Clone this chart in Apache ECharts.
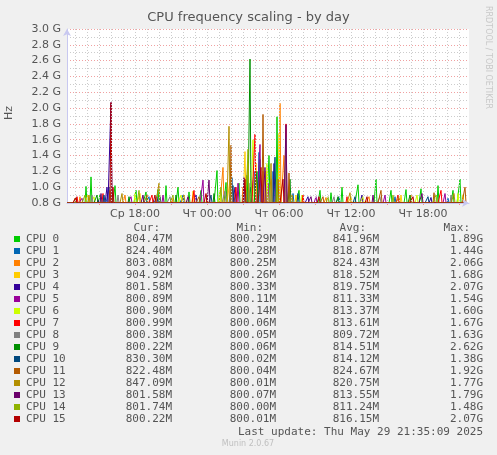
<!DOCTYPE html>
<html>
<head>
<meta charset="utf-8">
<script src="https://cdn.jsdelivr.net/npm/echarts@6/dist/echarts.min.js"></script>
<style>
  html, body { margin: 0; padding: 0; background: #f0f0f0; }
  #chart { width: 497px; height: 455px; }
</style>
</head>
<body>
<div id="chart"></div>
<script>
// time in hours since Wed 00:00, values in GHz
const startHour = 12.3333;
const endHour = 45.5833;
const baseline = 0.80;

const names = ['CPU 0','CPU 1','CPU 2','CPU 3','CPU 4','CPU 5','CPU 6','CPU 7',
               'CPU 8','CPU 9','CPU 10','CPU 11','CPU 12','CPU 13','CPU 14','CPU 15'];
const colors = ['#00cc00','#0066b3','#ff8000','#ffcc00','#330099','#990099','#ccff00','#ff0000',
                '#808080','#008f00','#00487d','#b35a00','#b38f00','#6b006b','#8fb300','#b30000'];

// spikes: [hour, GHz]
const spikes = [
  [[13.9,1.01],[14.33,1.13],[15.1,0.9],[16.33,1.02],[18.1,0.96],[18.9,0.94],[19.9,0.97],[20.6,1.02],[21.6,1.0],[22.5,0.94],[23.5,0.96],[24.8,1.21],[25.6,1.06],[26.7,1.05],[27.3,1.15],[28.4,1.35],[29.2,1.4],[29.86,1.89],[30.8,1.0],[31.7,0.96],[33.4,0.96],[34.3,0.93],[35.22,1.0],[36.6,1.03],[38.08,1.1],[39.3,0.96],[40.6,0.97],[41.8,0.98],[43.28,1.02],[44.5,0.96],[45.08,1.1]],
  [[15.8,1.0],[19.2,0.88],[22.0,0.9],[26.1,1.12],[27.7,1.0],[28.3,1.44],[29.5,1.2],[31.2,0.92],[35.0,0.88],[39.7,0.88],[44.1,0.86]],
  [[13.4,0.88],[17.2,0.9],[21.1,0.86],[24.0,0.9],[25.3,1.25],[27.0,1.0],[28.9,1.2],[30.11,2.06],[30.4,1.4],[33.9,0.87],[37.5,0.88],[41.0,0.9]],
  [[14.1,0.9],[18.4,0.92],[22.8,0.95],[25.9,1.1],[27.2,1.45],[28.1,1.3],[30.0,1.68],[31.4,0.9],[36.0,0.88],[40.2,0.9],[45.3,0.905]],
  [[14.9,0.84],[15.7,1.0],[16.0,2.07],[19.8,0.88],[23.1,0.9],[26.3,1.0],[27.9,1.2],[29.6,1.3],[32.4,0.88],[36.9,0.9],[42.7,0.87]],
  [[13.6,0.86],[17.7,0.88],[20.3,0.9],[23.7,1.09],[26.6,1.05],[28.4,1.54],[29.1,1.05],[33.1,0.88],[38.8,0.9],[43.8,0.92]],
  [[14.6,0.88],[18.0,0.92],[21.8,0.9],[25.1,0.96],[27.8,1.6],[29.0,1.3],[31.9,0.9],[37.0,0.88],[41.5,0.9],[44.9,0.92]],
  [[13.2,0.88],[15.3,0.92],[19.4,0.9],[22.9,0.96],[26.4,1.0],[28.0,1.67],[28.7,1.2],[30.55,1.8],[32.0,0.9],[35.7,0.88],[39.9,0.9],[43.5,0.96]],
  [[14.4,0.9],[16.6,0.9],[20.9,0.88],[25.5,0.95],[27.5,1.05],[29.4,1.1],[30.6,1.63],[34.6,0.88],[38.4,0.88],[44.3,0.9]],
  [[14.8,0.9],[17.5,0.88],[21.4,0.9],[24.6,0.92],[27.61,2.62],[28.2,1.2],[30.9,1.1],[34.9,0.88],[40.9,0.9]],
  [[15.4,0.9],[20.1,0.88],[24.3,0.9],[26.2,1.02],[29.7,1.38],[31.6,0.92],[36.3,0.88],[42.4,0.88]],
  [[13.0,0.86],[15.9,0.96],[19.0,0.9],[23.3,0.88],[26.0,1.53],[28.69,1.92],[29.9,1.1],[30.8,1.18],[33.7,0.88],[38.5,0.96],[42.9,0.93],[45.5,1.0]],
  [[14.2,0.9],[16.9,0.92],[20.0,1.05],[22.1,0.9],[25.86,1.77],[27.4,1.3],[29.3,1.3],[31.1,0.9],[35.9,0.93],[40.0,0.88],[44.6,0.92]],
  [[15.2,0.92],[18.7,0.9],[22.4,0.88],[24.2,1.09],[27.1,1.12],[28.8,1.25],[30.56,1.79],[32.7,0.88],[37.8,0.9],[41.9,0.92]],
  [[13.8,0.9],[18.3,0.96],[21.2,0.9],[25.2,1.0],[27.4,1.48],[29.8,1.1],[34.1,0.88],[39.5,0.9],[43.1,0.9]],
  [[13.1,0.87],[16.0,2.07],[16.2,1.0],[19.7,0.9],[23.9,0.92],[27.2,1.1],[28.5,1.25],[30.3,1.1],[33.3,0.88],[37.3,0.88],[41.2,0.88]]
];

const curVals = ['804.47M','824.40M','803.08M','904.92M','801.58M','800.89M','800.90M','800.99M','800.38M','800.22M','830.30M','822.48M','847.09M','801.58M','801.74M','800.22M'];
const minVals = ['800.29M','800.28M','800.25M','800.26M','800.33M','800.11M','800.14M','800.06M','800.05M','800.06M','800.02M','800.04M','800.01M','800.07M','800.00M','800.01M'];
const avgVals = ['841.96M','818.87M','824.43M','818.52M','819.75M','811.33M','813.37M','813.61M','809.72M','814.51M','814.12M','824.67M','820.75M','813.55M','811.24M','816.15M'];
const maxVals = ['1.89G','1.44G','2.06G','1.68G','2.07G','1.54G','1.60G','1.67G','1.63G','2.62G','1.38G','1.92G','1.77G','1.79G','1.48G','2.07G'];

const xLabels = { 18: 'Ср 18:00', 24: 'Чт 00:00', 30: 'Чт 06:00', 36: 'Чт 12:00', 42: 'Чт 18:00' };
const hourLines = [];
for (let h = 13; h <= 45; h++) hourLines.push(h);
const majorLines = [15, 18, 21, 24, 27, 30, 33, 36, 39, 42, 45];

// 5 minute steps, baseline between read spikes
const step = 1 / 12;
function buildSeries(list) {
  const n = Math.round((endHour - startHour) / step) + 1;
  const vals = new Array(n).fill(baseline);
  list.forEach(([h, v]) => {
    const i = Math.round((h - startHour) / step);
    if (i >= 0 && i < n) vals[i] = Math.max(vals[i], v);
  });
  return vals.map((v, i) => [startHour + i * step, v]);
}

const chart = echarts.init(document.getElementById('chart'));
const font = 'DejaVu Sans';
const mono = 'DejaVu Sans Mono';
const textCol = '#555';

const graphic = [
  { type: 'text', left: 'center', top: 11, style: { text: 'CPU frequency scaling - by day', font: '13px ' + font, fill: '#555' } },
  { type: 'text', x: 4, y: 120, rotation: Math.PI / 2, style: { text: 'Hz', font: '11px ' + font, fill: '#555' } },
  { type: 'text', x: 492, y: 6, rotation: -Math.PI / 2, style: { text: 'RRDTOOL / TOBI OETIKER', font: '8px ' + font, fill: '#c8c8c8' } },
  { type: 'text', x: 160, y: 223, style: { text: 'Cur:', font: '11px ' + mono, fill: textCol, align: 'right' } },
  { type: 'text', x: 263, y: 223, style: { text: 'Min:', font: '11px ' + mono, fill: textCol, align: 'right' } },
  { type: 'text', x: 366, y: 223, style: { text: 'Avg:', font: '11px ' + mono, fill: textCol, align: 'right' } },
  { type: 'text', x: 470, y: 223, style: { text: 'Max:', font: '11px ' + mono, fill: textCol, align: 'right' } },
  { type: 'text', x: 483, y: 427, style: { text: 'Last update: Thu May 29 21:35:09 2025', font: '11px ' + mono, fill: textCol, align: 'right' } },
  { type: 'text', x: 248, y: 440, style: { text: 'Munin 2.0.67', font: '8px ' + font, fill: '#c0c0c0', align: 'center' } }
];
names.forEach((name, i) => {
  const y = 235 + i * 12;
  graphic.push({ type: 'rect', shape: { x: 14, y: y + 1, width: 6, height: 6 }, style: { fill: colors[i] } });
  graphic.push({ type: 'text', x: 26, y: y - 1, style: { text: name, font: '11px ' + mono, fill: textCol } });
  graphic.push({ type: 'text', x: 172, y: y - 1, style: { text: curVals[i], font: '11px ' + mono, fill: textCol, align: 'right' } });
  graphic.push({ type: 'text', x: 276, y: y - 1, style: { text: minVals[i], font: '11px ' + mono, fill: textCol, align: 'right' } });
  graphic.push({ type: 'text', x: 379, y: y - 1, style: { text: avgVals[i], font: '11px ' + mono, fill: textCol, align: 'right' } });
  graphic.push({ type: 'text', x: 483, y: y - 1, style: { text: maxVals[i], font: '11px ' + mono, fill: textCol, align: 'right' } });
});

const axisArrow = { show: true, onZero: false, lineStyle: { color: '#c8c8f0' }, symbol: ['none', 'arrow'], symbolSize: [6, 7] };

chart.setOption({
  backgroundColor: '#f0f0f0',
  animation: false,
  grid: { left: 67, right: 28, top: 29, bottom: 252, backgroundColor: '#fff', show: true, borderWidth: 0 },
  graphic: graphic,
  xAxis: [
    {
      type: 'value', min: startHour, max: endHour + 0.25,
      axisLine: axisArrow,
      axisTick: { show: false, customValues: hourLines },
      axisLabel: { show: false, customValues: hourLines },
      splitLine: { show: true, lineStyle: { color: '#ccc', type: [1, 2] } },
      z: 5
    },
    {
      type: 'value', min: startHour, max: endHour + 0.25, position: 'bottom',
      axisLine: { show: false, onZero: false },
      axisTick: { show: true, length: 2, lineStyle: { color: '#f88' }, customValues: majorLines },
      axisLabel: { customValues: [18, 24, 30, 36, 42], formatter: v => xLabels[Math.round(v)] || '', color: textCol, fontFamily: font, fontSize: 11, margin: 6 },
      splitLine: { show: true, lineStyle: { color: '#f0a0a0', type: [1, 2] } }
    }
  ],
  yAxis: {
    type: 'value', min: 0.8, max: 3.0, interval: 0.2,
    axisLine: axisArrow,
    axisTick: { show: false },
    axisLabel: { formatter: v => v.toFixed(1) + ' G', color: textCol, fontFamily: font, fontSize: 11, margin: 6 },
    splitLine: { lineStyle: { color: '#f0a0a0', type: [1, 2] } },
    minorTick: { show: false, splitNumber: 2 },
    minorSplitLine: { show: true, lineStyle: { color: '#ccc', type: [1, 2] } }
  },
  series: names.map((name, i) => ({
    name: name, type: 'line', showSymbol: false, symbol: 'none',
    lineStyle: { width: 1, color: colors[i] },
    data: buildSeries(spikes[i]),
    z: 2
  }))
});
</script>
</body>
</html>
